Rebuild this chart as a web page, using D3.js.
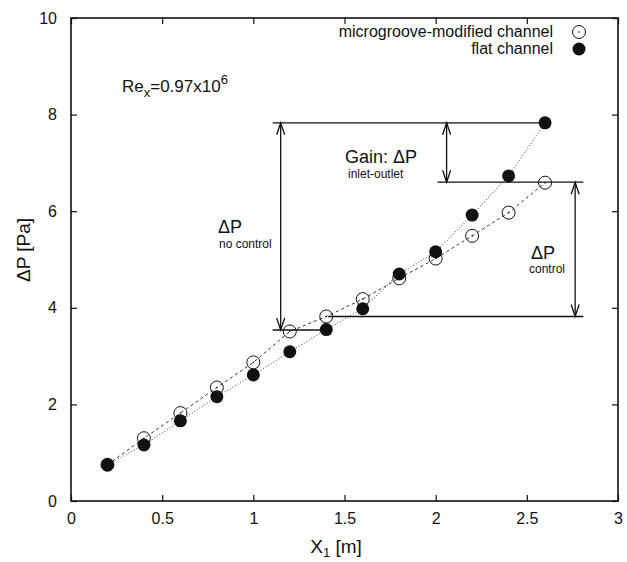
<!DOCTYPE html>
<html>
<head>
<meta charset="utf-8">
<script src="https://cdn.jsdelivr.net/npm/d3@7"></script>
<style>
  body { margin: 0; background: #fff; }
  text { font-family: "Liberation Sans", Arial, sans-serif; fill: #111; }
</style>
</head>
<body>
<div id="chart"></div>
<script>
// positions along the channel [m]
var xs = [0.2, 0.4, 0.6, 0.8, 1.0, 1.2, 1.4, 1.6, 1.8, 2.0, 2.2, 2.4, 2.6];
// microgroove-modified channel, open circles
var grooved = [0.75, 1.30, 1.82, 2.35, 2.87, 3.51, 3.82, 4.18, 4.61, 5.02, 5.49, 5.97, 6.59];
// flat channel, filled circles
var flat = [0.75, 1.16, 1.66, 2.16, 2.61, 3.09, 3.55, 3.98, 4.70, 5.16, 5.92, 6.73, 7.83];

var xTicks = [0, 0.5, 1, 1.5, 2, 2.5, 3];
var yTicks = [0, 2, 4, 6, 8, 10];

(function () {
    var width = 627, height = 562;
    var left = 71, right = 618, top = 18, bottom = 501;

    var svg = d3.select("#chart").append("svg")
        .attr("width", width)
        .attr("height", height);

    var x = d3.scaleLinear().domain([0, 3]).range([left, right]);
    var y = d3.scaleLinear().domain([0, 10]).range([bottom, top]);

    // inward ticks on all sides
    var tk = 6;
    svg.append("g").attr("transform", "translate(0," + bottom + ")")
        .call(d3.axisBottom(x).tickValues(xTicks).tickSizeInner(-tk).tickSizeOuter(0).tickPadding(12)
            .tickFormat(d3.format("")))
        .call(g => g.select(".domain").remove());
    svg.append("g").attr("transform", "translate(0," + top + ")")
        .call(d3.axisTop(x).tickValues(xTicks).tickSizeInner(-tk).tickSizeOuter(0).tickFormat(""))
        .call(g => g.select(".domain").remove());
    svg.append("g").attr("transform", "translate(" + left + ",0)")
        .call(d3.axisLeft(y).tickValues(yTicks).tickSizeInner(-tk).tickSizeOuter(0).tickPadding(14))
        .call(g => g.select(".domain").remove());
    svg.append("g").attr("transform", "translate(" + right + ",0)")
        .call(d3.axisRight(y).tickValues(yTicks).tickSizeInner(-tk).tickSizeOuter(0).tickFormat(""))
        .call(g => g.select(".domain").remove());

    svg.selectAll(".tick line").attr("stroke", "#111").attr("stroke-width", 1.2);
    svg.selectAll(".tick text").style("font-size", "16px").attr("fill", "#111")
        .style("font-family", "Liberation Sans, Arial, sans-serif");

    svg.append("rect")
        .attr("x", left).attr("y", top)
        .attr("width", right - left).attr("height", bottom - top)
        .attr("fill", "none").attr("stroke", "#111").attr("stroke-width", 1.6);

    // axis titles
    var xt = svg.append("text").attr("x", 336).attr("y", 553)
        .attr("text-anchor", "middle").style("font-size", "19px");
    xt.append("tspan").text("X");
    xt.append("tspan").attr("dy", 4).style("font-size", "13px").text("1");
    xt.append("tspan").attr("dy", -4).text(" [m]");

    svg.append("text")
        .attr("transform", "translate(30,250) rotate(-90)")
        .attr("text-anchor", "middle").style("font-size", "19px")
        .text("ΔP [Pa]");

    // data lines
    var gData = xs.map((d, i) => [d, grooved[i]]);
    var fData = xs.map((d, i) => [d, flat[i]]);
    var line = d3.line().x(d => x(d[0])).y(d => y(d[1]));

    svg.append("path").datum(gData).attr("d", line)
        .attr("fill", "none").attr("stroke", "#333").attr("stroke-width", 1)
        .attr("stroke-dasharray", "3,3");
    svg.append("path").datum(fData).attr("d", line)
        .attr("fill", "none").attr("stroke", "#666").attr("stroke-width", 1.1)
        .attr("stroke-dasharray", "1,2");

    var r = 6.5;
    var og = svg.append("g").selectAll("g").data(gData).enter().append("g")
        .attr("transform", d => "translate(" + x(d[0]) + "," + y(d[1]) + ")");
    og.append("circle").attr("r", r).attr("fill", "none").attr("stroke", "#111").attr("stroke-width", 1);
    og.append("circle").attr("r", 0.8).attr("fill", "#111");

    svg.append("g").selectAll("circle").data(fData).enter().append("circle")
        .attr("cx", d => x(d[0])).attr("cy", d => y(d[1]))
        .attr("r", r).attr("fill", "#111");

    // legend
    svg.append("text").attr("x", 553).attr("y", 37).attr("text-anchor", "end")
        .style("font-size", "16px").text("microgroove-modified channel");
    svg.append("text").attr("x", 553).attr("y", 54).attr("text-anchor", "end")
        .style("font-size", "16px").text("flat channel");
    svg.append("circle").attr("cx", 579).attr("cy", 32).attr("r", r)
        .attr("fill", "none").attr("stroke", "#111").attr("stroke-width", 1);
    svg.append("circle").attr("cx", 579).attr("cy", 32).attr("r", 0.8).attr("fill", "#111");
    svg.append("circle").attr("cx", 579).attr("cy", 49).attr("r", r).attr("fill", "#111");

    // Reynolds number
    var re = svg.append("text").attr("x", 122).attr("y", 92).style("font-size", "17px");
    re.append("tspan").text("Re");
    re.append("tspan").attr("dy", 5).style("font-size", "13px").text("x");
    re.append("tspan").attr("dy", -5).text("=0.97x10");
    re.append("tspan").attr("dy", -8).style("font-size", "13px").text("6");

    // annotation lines (data units)
    var hLines = [
        [1.106, 2.6, 7.83],
        [1.106, 1.41, 3.54],
        [1.41, 2.81, 3.82],
        [2.01, 2.81, 6.60]
    ];
    var arrows = [
        [1.15, 7.83, 3.54],
        [2.06, 7.83, 6.60],
        [2.765, 6.60, 3.82]
    ];

    svg.append("g").selectAll("line").data(hLines).enter().append("line")
        .attr("x1", d => x(d[0])).attr("x2", d => x(d[1]))
        .attr("y1", d => y(d[2])).attr("y2", d => y(d[2]))
        .attr("stroke", "#111").attr("stroke-width", 1.3);

    var ag = svg.append("g").attr("stroke", "#111").attr("stroke-width", 1.3).attr("fill", "none");
    arrows.forEach(function (a) {
        var ax = x(a[0]), y1 = y(a[1]), y2 = y(a[2]);
        ag.append("line").attr("x1", ax).attr("x2", ax).attr("y1", y1).attr("y2", y2);
        ag.append("path").attr("d", "M" + (ax - 4) + "," + (y1 + 12) + "L" + ax + "," + y1 + "L" + (ax + 4) + "," + (y1 + 12));
        ag.append("path").attr("d", "M" + (ax - 4) + "," + (y2 - 12) + "L" + ax + "," + y2 + "L" + (ax + 4) + "," + (y2 - 12));
    });

    // annotation labels
    svg.append("text").attr("x", 345).attr("y", 163).style("font-size", "18px").text("Gain: ΔP");
    svg.append("text").attr("x", 348).attr("y", 178).style("font-size", "12px").text("inlet-outlet");
    svg.append("text").attr("x", 218).attr("y", 233).style("font-size", "18px").text("ΔP");
    svg.append("text").attr("x", 219).attr("y", 248).style("font-size", "12px").text("no control");
    svg.append("text").attr("x", 531).attr("y", 259).style("font-size", "18px").text("ΔP");
    svg.append("text").attr("x", 547).attr("y", 273).attr("text-anchor", "middle")
        .style("font-size", "12px").text("control");
})();
</script>
</body>
</html>
